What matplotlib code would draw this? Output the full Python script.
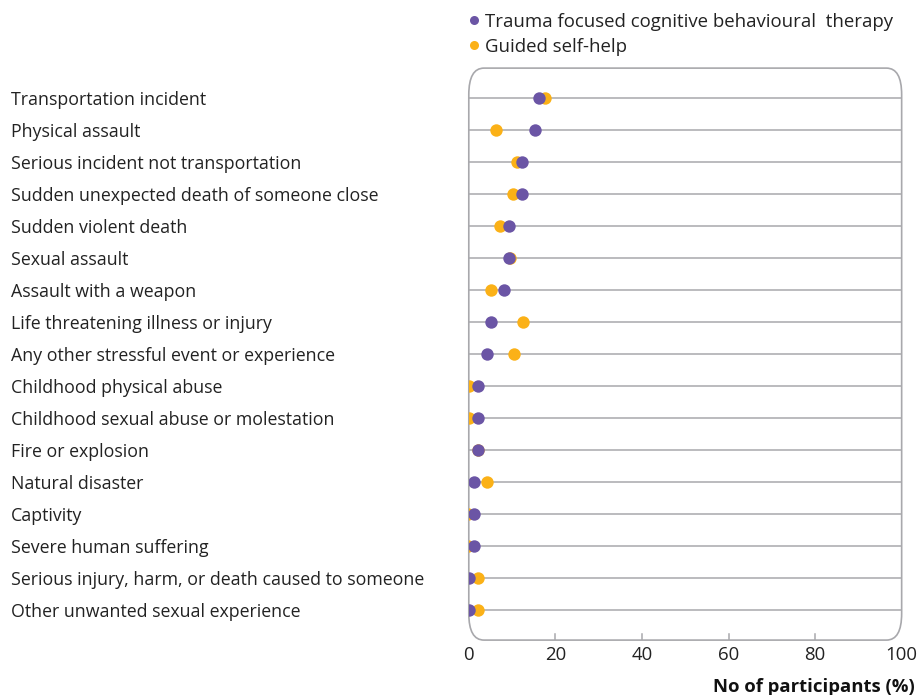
import matplotlib
matplotlib.use("Agg")
from matplotlib import pyplot as plt
from matplotlib.patches import FancyBboxPatch
from matplotlib.lines import Line2D
from matplotlib.transforms import blended_transform_factory

plt.rcParams['font.family'] = ['Open Sans', 'DejaVu Sans']

events = ["Transportation incident", "Physical assault",
          "Serious incident not transportation",
          "Sudden unexpected death of someone close",
          "Sudden violent death", "Sexual assault", "Assault with a weapon",
          "Life threatening illness or injury",
          "Any other stressful event or experience",
          "Childhood physical abuse",
          "Childhood sexual abuse or molestation", "Fire or explosion",
          "Natural disaster", "Captivity", "Severe human suffering",
          "Serious injury, harm, or death caused to someone",
          "Other unwanted sexual experience"]
tfcbt = [16.2, 15.2, 12.2, 12.2, 9.2, 9.2, 8.2, 5.1, 4.1, 2.1, 2.1, 2.1,
         1.1, 1.1, 1.1, 0, 0]
gsh = [17.6, 6.2, 11.2, 10.3, 7.2, 9.5, 5.2, 12.5, 10.4, 0, 0, 2.1,
       4.2, -0.2, -0.2, 2.1, 2.1]
xticks = [0, 20, 40, 60, 80, 100]

purple = "#6B55A5"
orange = "#FBB117"
grey = "#A8A8AC"
fs = 12.8

fig = plt.figure(figsize=(9.21, 6.95), dpi=100)
ax = fig.add_axes([0.509, 0.079, 0.470, 0.823])

ypos = list(range(len(events)))
for y in ypos:
    ax.plot([0, 100], [y, y], color=grey, lw=1.1, zorder=1)

ax.scatter(gsh, ypos, s=80, color=orange, zorder=3, linewidths=0)
ax.scatter(tfcbt, ypos, s=80, color=purple, zorder=4, linewidths=0)

ax.set_xlim(0, 100)
ax.set_ylim(len(events) - 0.06, -0.94)

for s in ax.spines.values():
    s.set_visible(False)

box = FancyBboxPatch((0, 0), 1, 1, boxstyle="round,pad=0,rounding_size=0.035",
                     transform=ax.transAxes, fill=False, edgecolor=grey,
                     lw=1.2, clip_on=False, zorder=2,
                     mutation_aspect=1.33)
ax.add_patch(box)

ax.set_xticks(xticks)
ax.set_xticklabels([str(t) for t in xticks], fontsize=13.4, color="#222222")
ax.tick_params(axis='x', length=0, pad=4)
for t in xticks[1:-1]:
    ax.plot([t, t], [len(events) - 0.06, len(events) - 0.06 - 0.2],
            color=grey, lw=1.1, zorder=2)

ax.set_yticks([])
lab_tr = blended_transform_factory(fig.transFigure, ax.transData)
for y, lab in zip(ypos, events):
    ax.text(11 / 921, y, lab, transform=lab_tr,
            ha='left', va='center_baseline', fontsize=fs, color="#222222")

ax.text(1.03, -0.082, "No of participants (%)", transform=ax.transAxes,
        fontsize=13.3, fontweight='bold', color="#111111",
        ha='right', va='center')

# legend
for yy, col, txt in [(20, purple, "Trauma focused cognitive behavioural  therapy"),
                     (45, orange, "Guided self-help")]:
    fig.add_artist(Line2D([474 / 921], [1 - yy / 695], marker='o', ms=6.5,
                          mew=0, color=col, transform=fig.transFigure))
    fig.text(485 / 921, 1 - yy / 695, txt, fontsize=13.4, ha='left',
             va='center_baseline', color="#222222")

plt.savefig("out.png", dpi=100)
